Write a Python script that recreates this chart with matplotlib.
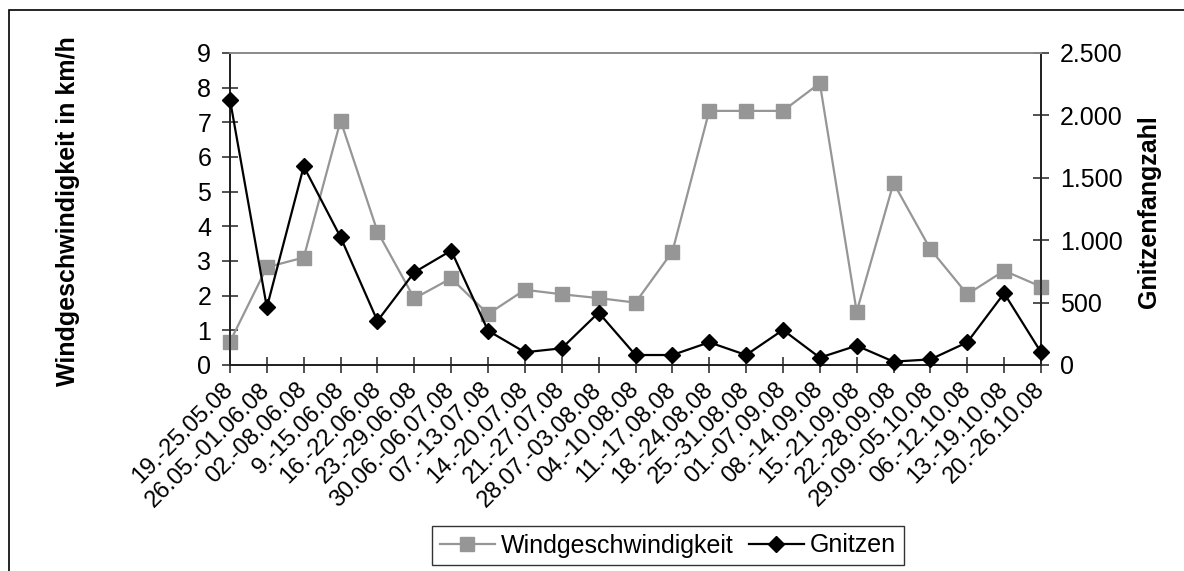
import matplotlib
matplotlib.use("Agg")
import matplotlib.pyplot as plt
from matplotlib.patches import Rectangle
from matplotlib.ticker import FuncFormatter

plt.rcParams['font.family'] = ['Liberation Sans', 'DejaVu Sans']

weeks = [
    "19.-25.05.08", "26.05.-01.06.08", "02.-08.06.08", "9.-15.06.08",
    "16.-22.06.08", "23.-29.06.08", "30.06.-06.07.08", "07.-13.07.08",
    "14.-20.07.08", "21.-27.07.08", "28.07.-03.08.08", "04.-10.08.08",
    "11.-17.08.08", "18.-24.08.08", "25.-31.08.08", "01.-07.09.08",
    "08.-14.09.08", "15.-21.09.08", "22.-28.09.08", "29.09.-05.10.08",
    "06.-12.10.08", "13.-19.10.08", "20.-26.10.08",
]
wind_kmh = [0.67, 2.82, 3.1, 7.05, 3.85, 1.92, 2.5, 1.47, 2.17, 2.04, 1.93,
            1.8, 3.27, 7.33, 7.33, 7.33, 8.13, 1.54, 5.25, 3.34, 2.04, 2.72, 2.26]
gnitzen = [2125, 462, 1591, 1024, 353, 743, 917, 275, 102, 134, 420,
           80, 80, 182, 80, 281, 59, 155, 27, 45, 182, 575, 102]

W, H = 1184, 571
FS = 18
fig = plt.figure(figsize=(W / 100, H / 100), dpi=100)
fig.patch.set_facecolor("white")

# outer chart border
fig.add_artist(Rectangle((9 / W, -0.05), 1.2, 1 - 10 / H + 0.05,
                         transform=fig.transFigure, fill=False,
                         edgecolor="black", linewidth=1.2))

left, right, top, bottom = 230, 1041, 53, 365
ax = fig.add_axes([left / W, 1 - bottom / H, (right - left) / W, (bottom - top) / H])
ax2 = ax.twinx()

x = list(range(len(weeks)))
gray = "#969696"
l1, = ax.plot(x, wind_kmh, color=gray, lw=1.6, marker="s", ms=10,
              mfc=gray, mec=gray, clip_on=False, zorder=3,
              label="Windgeschwindigkeit")
l2, = ax2.plot(x, gnitzen, color="black", lw=1.6, marker="D", ms=8,
               mfc="black", mec="black", clip_on=False, zorder=3,
               label="Gnitzen")

ax.set_xlim(0, len(weeks) - 1)
ax.set_ylim(0, 9)
ax2.set_ylim(0, 2500)
ax.set_yticks(range(0, 10))
ax2.set_yticks(range(0, 2501, 500))
ax2.yaxis.set_major_formatter(FuncFormatter(lambda v, p: f"{int(v):,}".replace(",", ".")))

for a in (ax, ax2):
    for s in a.spines.values():
        s.set_linewidth(1.3)
        s.set_color("#222222")
    a.spines["top"].set_color("#8c8c8c")

ax.set_xticks(x)
ax.set_xticklabels(weeks, rotation=45, ha="right", va="center",
                   rotation_mode="anchor", fontsize=17)
ax.tick_params(axis="x", direction="inout", length=11, width=1.1, pad=10, colors="#222222",
               labelcolor="black")
ax.tick_params(axis="y", direction="inout", length=11, width=1.1, pad=8, labelsize=FS,
               colors="#222222", labelcolor="black")
ax2.tick_params(axis="y", direction="inout", length=11, width=1.1, pad=8, labelsize=FS,
                colors="#222222", labelcolor="black")

fig.text(68 / W, 1 - 211 / H, "Windgeschwindigkeit in km/h", rotation=90,
         ha="center", va="center", fontsize=FS, fontweight="bold")
fig.text(1149 / W, 1 - 212 / H, "Gnitzenfangzahl", rotation=90,
         ha="center", va="center", fontsize=FS, fontweight="bold")

leg = fig.legend(handles=[l1, l2], loc="upper center",
                 bbox_to_anchor=(668 / W, 1 - 526 / H), ncol=2, fontsize=FS,
                 frameon=True, fancybox=False, edgecolor="black",
                 handlelength=2.2, handletextpad=0.25, columnspacing=0.6,
                 borderpad=0.3, borderaxespad=0)
leg.get_frame().set_linewidth(1.0)

fig.savefig("out.png", dpi=100, facecolor="white")
